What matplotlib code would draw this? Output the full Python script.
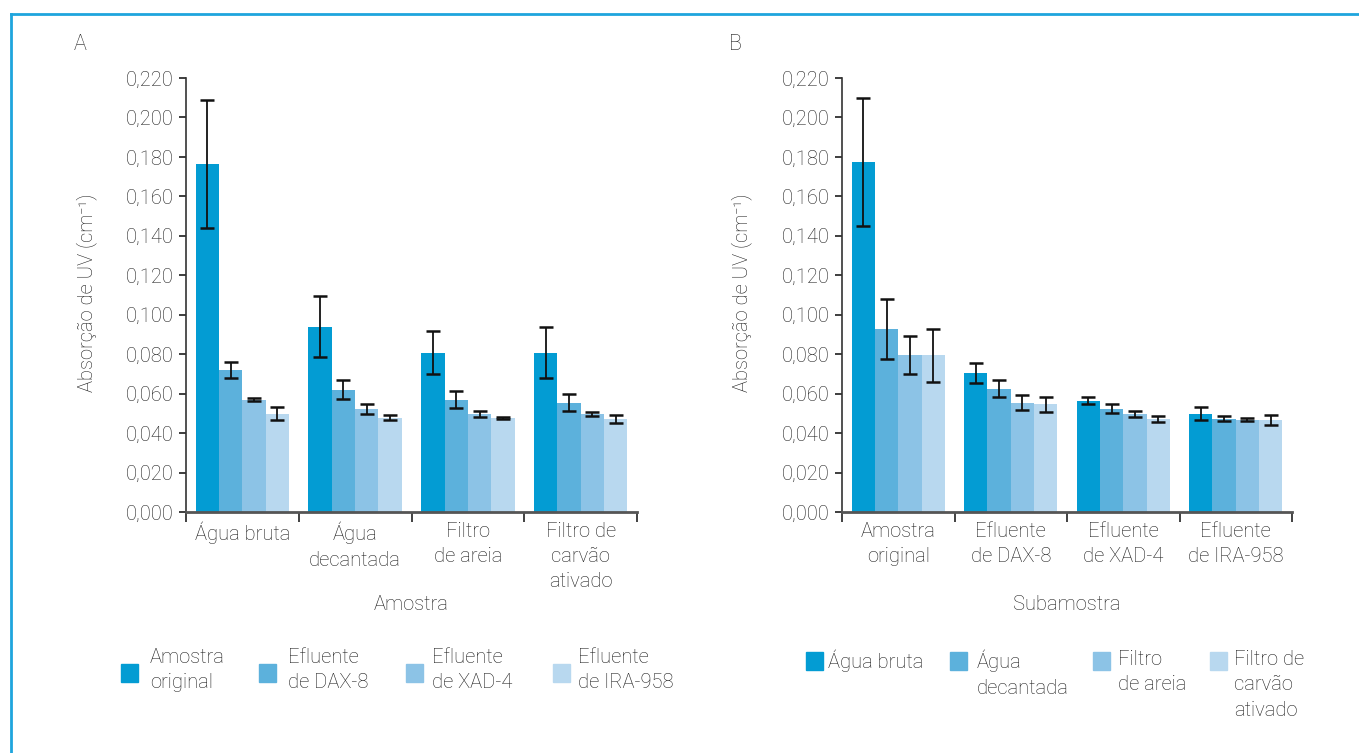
import matplotlib
matplotlib.use('Agg')
import matplotlib.pyplot as plt
import numpy as np
from matplotlib.patches import Rectangle
from matplotlib.lines import Line2D

plt.rcParams['font.family'] = ['Roboto', 'DejaVu Sans']
plt.rcParams['font.weight'] = 'light'
TXT = '#1e1e1e'

# dados
grupos_a = ['Água bruta', 'Água\ndecantada', 'Filtro\nde areia', 'Filtro de\ncarvão\nativado']
series_a = ['Amostra\noriginal', 'Efluente\nde DAX-8', 'Efluente\nde XAD-4', 'Efluente\nde IRA-958']
vals_a = [[0.1765, 0.0940, 0.0807, 0.0807],
          [0.0721, 0.0620, 0.0569, 0.0554],
          [0.0569, 0.0523, 0.0498, 0.0498],
          [0.0498, 0.0478, 0.0478, 0.0473]]
err_a = [[0.0324, 0.0155, 0.0109, 0.0130],
         [0.0041, 0.0047, 0.0043, 0.0043],
         [0.0007, 0.0025, 0.0016, 0.0011],
         [0.0034, 0.0013, 0.0006, 0.0021]]

grupos_b = ['Amostra\noriginal', 'Efluente\nde DAX-8', 'Efluente\nde XAD-4', 'Efluente\nde IRA-958']
series_b = ['Água bruta', 'Água\ndecantada', 'Filtro\nde areia', 'Filtro de\ncarvão\nativado']
vals_b = [[0.1776, 0.0706, 0.0564, 0.0498],
          [0.0930, 0.0625, 0.0523, 0.0473],
          [0.0794, 0.0554, 0.0498, 0.0468],
          [0.0794, 0.0545, 0.0473, 0.0468]]
err_b = [[0.0324, 0.0050, 0.0018, 0.0033],
         [0.0152, 0.0043, 0.0023, 0.0014],
         [0.0096, 0.0038, 0.0014, 0.0006],
         [0.0133, 0.0040, 0.0015, 0.0025]]

yticks = [0.0, 0.02, 0.04, 0.06, 0.08, 0.10, 0.12, 0.14, 0.16, 0.18, 0.20, 0.22]
ylabels = ['0,000', '0,020', '0,040', '0,060', '0,080', '0,100', '0,120',
           '0,140', '0,160', '0,180', '0,200', '0,220']
cores = ['#039cd3', '#5cb1dc', '#8cc3e6', '#b8d8ef']

W, H = 1359, 753
fig = plt.figure(figsize=(W / 100, H / 100), dpi=100)

def fx(px):
    return px / W

def fy(py):
    return 1 - py / H

def painel(left, right, grupos, vals, errs, xlabel, letra, letra_x, ylab_x):
    ax = fig.add_axes([fx(left), fy(512), fx(right - left), fy(78) - fy(512)])
    x = np.arange(len(grupos))
    w = 0.207
    for i in range(4):
        ax.bar(x + (i - 1.5) * w, vals[i], w, color=cores[i], zorder=2)
        ax.errorbar(x + (i - 1.5) * w, vals[i], yerr=errs[i], fmt='none',
                    ecolor='#111111', elinewidth=1.3, capsize=5, capthick=1.8, zorder=3)
    ax.set_xlim(-0.5, len(grupos) - 0.5)
    ax.set_ylim(0, 0.22)
    ax.set_yticks(yticks)
    ax.set_yticklabels(ylabels)
    ax.set_xticks(x)
    ax.set_xticklabels(grupos, linespacing=1.42)
    ax.set_xticks(np.arange(len(grupos) + 1) - 0.5, minor=True)
    ax.tick_params(axis='x', which='major', length=0, pad=7, labelsize=14.5, colors=TXT)
    ax.tick_params(axis='x', which='minor', length=7, width=1.3, color='#333333')
    ax.tick_params(axis='y', length=5, width=1.2, pad=4, labelsize=14.5, colors=TXT)
    ax.spines['top'].set_visible(False)
    ax.spines['right'].set_visible(False)
    ax.spines['left'].set_color('#333333')
    ax.spines['bottom'].set_color('#555555')
    ax.spines['bottom'].set_linewidth(2)
    ax.spines['left'].set_linewidth(1.2)
    fig.text(fx((left + right) / 2), fy(605), xlabel, ha='center', va='center',
             fontsize=14.5, color=TXT)
    fig.text(fx(ylab_x), fy(293), 'Absorção de UV (cm⁻¹)', rotation=90,
             ha='center', va='center', fontsize=14.5, color=TXT)
    fig.text(fx(letra_x), fy(45), letra, ha='center', va='center', fontsize=15.5, color=TXT)
    return ax

painel(186, 637, grupos_a, vals_a, err_a, 'Amostra', 'A', 80, 87)
painel(842, 1292, grupos_b, vals_b, err_b, 'Subamostra', 'B', 735, 742)

# legendas
def legenda(nomes, patch_x, text_x, patch_y0, patch_y1, text_y):
    for i, nome in enumerate(nomes):
        fig.add_artist(Rectangle((fx(patch_x[i]), fy(patch_y1)), fx(17),
                                 fy(patch_y0) - fy(patch_y1), color=cores[i],
                                 transform=fig.transFigure))
        fig.text(fx(text_x[i]), fy(text_y), nome, ha='left', va='top',
                 fontsize=14.5, color=TXT, linespacing=1.42)

legenda(series_a, [121, 259, 406, 553], [150, 288, 432, 578], 664, 682, 648)
legenda(series_b, [806, 950, 1093, 1210], [828, 977, 1118, 1234], 652, 670, 650)

# moldura
fig.add_artist(Line2D([fx(11), 1], [fy(14), fy(14)], color='#1ea5dd', lw=2,
                      transform=fig.transFigure))
fig.add_artist(Line2D([fx(11), fx(11)], [fy(14), 0], color='#1ea5dd', lw=2,
                      transform=fig.transFigure))

fig.savefig('out.png', dpi=100, facecolor='white')
